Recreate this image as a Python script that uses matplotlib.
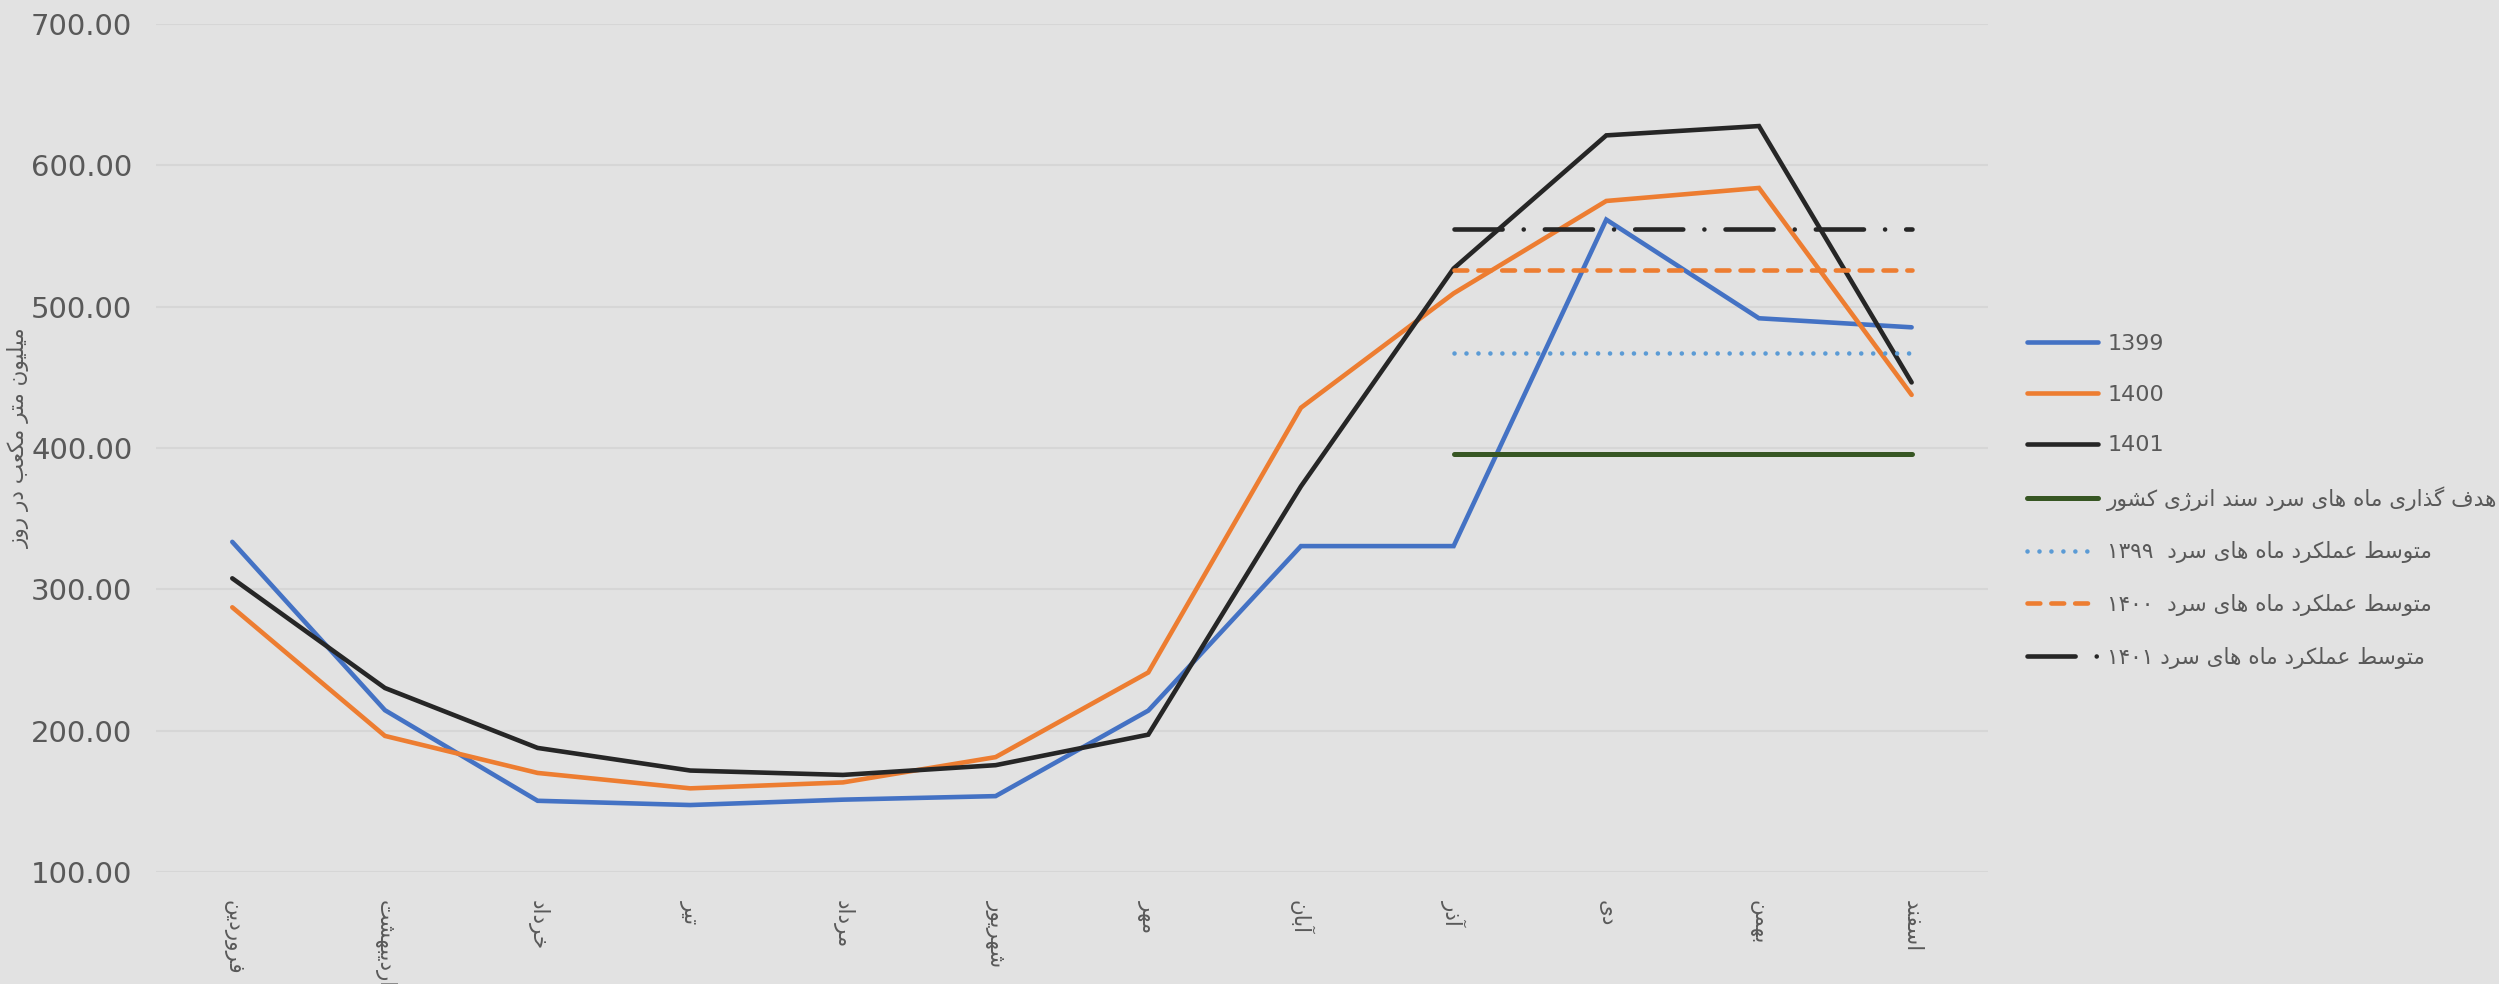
import re
import numpy as np
import matplotlib
matplotlib.use("Agg")
import matplotlib.pyplot as plt

# ---------------- data ----------------
months = ["فروردین", "اردیبهشت", "خرداد", "تیر", "مرداد", "شهریور",
          "مهر", "آبان", "آذر", "دی", "بهمن", "اسفند"]
s1399 = [333.6, 214.5, 150.4, 147.4, 151.2, 153.7, 214.2, 330.6, 330.6, 561.6, 491.8, 485.4]
s1400 = [287.3, 196.3, 170.1, 159.2, 163.4, 181.3, 241.2, 428.5, 509.4, 574.8, 584.0, 437.6]
s1401 = [307.8, 230.2, 187.8, 171.8, 168.7, 175.6, 197.2, 372.9, 527.0, 621.2, 627.8, 446.4]
cold_months = ["آذر", "دی", "بهمن", "اسفند"]
target_cold = [396.0, 396.0, 396.0, 396.0]
avg1399_cold = [467.0, 467.0, 467.0, 467.0]
avg1400_cold = [525.9, 525.9, 525.9, 525.9]
avg1401_cold = [555.3, 555.3, 555.3, 555.3]
labels = ["1399", "1400", "1401",
          "هدف گذاری ماه های سرد سند انرژی کشور",
          "متوسط عملکرد ماه های سرد  ۱۳۹۹",
          "متوسط عملکرد ماه های سرد  ۱۴۰۰",
          "متوسط عملکرد ماه های سرد ۱۴۰۱"]
ylabel = "میلیون متر مکعب در روز"
yticks = [100, 200, 300, 400, 500, 600, 700]

# ---------------- minimal Persian shaping (matplotlib has no shaping) ----------------
_F = {
    '\u0627': ('\uFE8D', '\uFE8E', None, None),
    '\u0622': ('\uFE81', '\uFE82', None, None),
    '\u0628': ('\uFE8F', '\uFE90', '\uFE91', '\uFE92'),
    '\u067E': ('\uFB56', '\uFB57', '\uFB58', '\uFB59'),
    '\u062A': ('\uFE95', '\uFE96', '\uFE97', '\uFE98'),
    '\u062B': ('\uFE99', '\uFE9A', '\uFE9B', '\uFE9C'),
    '\u062C': ('\uFE9D', '\uFE9E', '\uFE9F', '\uFEA0'),
    '\u0686': ('\uFB7A', '\uFB7B', '\uFB7C', '\uFB7D'),
    '\u062D': ('\uFEA1', '\uFEA2', '\uFEA3', '\uFEA4'),
    '\u062E': ('\uFEA5', '\uFEA6', '\uFEA7', '\uFEA8'),
    '\u062F': ('\uFEA9', '\uFEAA', None, None),
    '\u0630': ('\uFEAB', '\uFEAC', None, None),
    '\u0631': ('\uFEAD', '\uFEAE', None, None),
    '\u0632': ('\uFEAF', '\uFEB0', None, None),
    '\u0698': ('\uFB8A', '\uFB8B', None, None),
    '\u0633': ('\uFEB1', '\uFEB2', '\uFEB3', '\uFEB4'),
    '\u0634': ('\uFEB5', '\uFEB6', '\uFEB7', '\uFEB8'),
    '\u0635': ('\uFEB9', '\uFEBA', '\uFEBB', '\uFEBC'),
    '\u0636': ('\uFEBD', '\uFEBE', '\uFEBF', '\uFEC0'),
    '\u0637': ('\uFEC1', '\uFEC2', '\uFEC3', '\uFEC4'),
    '\u0638': ('\uFEC5', '\uFEC6', '\uFEC7', '\uFEC8'),
    '\u0639': ('\uFEC9', '\uFECA', '\uFECB', '\uFECC'),
    '\u063A': ('\uFECD', '\uFECE', '\uFECF', '\uFED0'),
    '\u0641': ('\uFED1', '\uFED2', '\uFED3', '\uFED4'),
    '\u0642': ('\uFED5', '\uFED6', '\uFED7', '\uFED8'),
    '\u06A9': ('\uFB8E', '\uFB8F', '\uFB90', '\uFB91'),
    '\u06AF': ('\uFB92', '\uFB93', '\uFB94', '\uFB95'),
    '\u0644': ('\uFEDD', '\uFEDE', '\uFEDF', '\uFEE0'),
    '\u0645': ('\uFEE1', '\uFEE2', '\uFEE3', '\uFEE4'),
    '\u0646': ('\uFEE5', '\uFEE6', '\uFEE7', '\uFEE8'),
    '\u0648': ('\uFEED', '\uFEEE', None, None),
    '\u0647': ('\uFEE9', '\uFEEA', '\uFEEB', '\uFEEC'),
    '\u06CC': ('\uFBFC', '\uFBFD', '\uFBFE', '\uFBFF'),
    '\u064A': ('\uFEF1', '\uFEF2', '\uFEF3', '\uFEF4'),
}


def _shape(s):
    out = []
    for i, c in enumerate(s):
        f = _F.get(c)
        if f is None:
            out.append(c)
            continue
        p = s[i - 1] if i > 0 else None
        n = s[i + 1] if i + 1 < len(s) else None
        jp = p in _F and _F[p][2] is not None
        jn = n in _F and f[2] is not None
        if jp and jn:
            out.append(f[3])
        elif jp:
            out.append(f[1])
        elif jn:
            out.append(f[2])
        else:
            out.append(f[0])
    return ''.join(out)


def fa(s):
    if not re.search('[\u0600-\u06FF]', s):
        return s
    sh = _shape(s)
    runs = re.findall('[0-9\u06F0-\u06F9]+|[^0-9\u06F0-\u06F9]+', sh)
    vis = []
    for r in reversed(runs):
        vis.append(r if re.match('[0-9\u06F0-\u06F9]', r) else r[::-1])
    return ''.join(vis)


# ---------------- style ----------------
BG = '#E2E2E2'
GRID = '#D6D6D6'
TXT = '#595959'
plt.rcParams['font.family'] = ['DejaVu Sans']

fig = plt.figure(figsize=(24.99, 9.84), dpi=100, facecolor=BG)
ax = fig.add_axes([0.0624, 0.1138, 0.7331, 0.8618], facecolor=BG)

x = np.arange(len(months))
xc = np.array([months.index(m) for m in cold_months])
lw = 3.3
kw = dict(solid_capstyle='round', solid_joinstyle='miter', dash_capstyle='round')

l1, = ax.plot(x, s1399, color='#4472C4', lw=lw, **kw)
l2, = ax.plot(x, s1400, color='#ED7D31', lw=lw, **kw)
l3, = ax.plot(x, s1401, color='#262626', lw=lw, **kw)
l4, = ax.plot(xc, target_cold, color='#375623', lw=3.6, **kw)
l5, = ax.plot(xc, avg1399_cold, color='#5B9BD5', lw=lw, linestyle=(0, (0.01, 2.6)), **kw)
l6, = ax.plot(xc, avg1400_cold, color='#ED7D31', lw=lw, linestyle=(0, (2.8, 2.4)), **kw)
l7, = ax.plot(xc, avg1401_cold, color='#262626', lw=lw, linestyle=(0, (10.5, 4.6, 0.01, 4.6)), **kw)

ax.set_xlim(-0.5, len(months) - 0.5)
ax.set_ylim(100, 700)
ax.set_yticks(yticks)
ax.set_yticklabels([f"{v:.2f}" for v in yticks], fontsize=21, color=TXT)
ax.set_xticks(x)
ax.set_xticklabels([fa(m) for m in months], rotation=-90, fontsize=15.5, color=TXT,
                   va='top', ha='center')
ax.tick_params(axis='both', length=0)
ax.tick_params(axis='y', pad=17)
ax.tick_params(axis='x', pad=20)
for sp in ax.spines.values():
    sp.set_visible(False)
ax.grid(axis='y', color=GRID, lw=1.5)
ax.set_axisbelow(True)

fig.text(0.0076, 0.555, fa(ylabel), rotation=90, fontsize=15.5, color=TXT,
         ha='center', va='center')

handles = [l1, l2, l3, l4, l5, l6, l7]
leg = fig.legend(handles, [fa(t) for t in labels], loc='center left',
                 bbox_to_anchor=(0.8112, 0.4905), frameon=False, fontsize=16,
                 handlelength=3.2, handletextpad=0.4, labelspacing=1.38,
                 borderpad=0, borderaxespad=0)
for t in leg.get_texts():
    t.set_color(TXT)
for t in leg.get_texts()[3:]:
    t.set_fontsize(15.6)

fig.savefig('out.png', dpi=100, facecolor=BG)
